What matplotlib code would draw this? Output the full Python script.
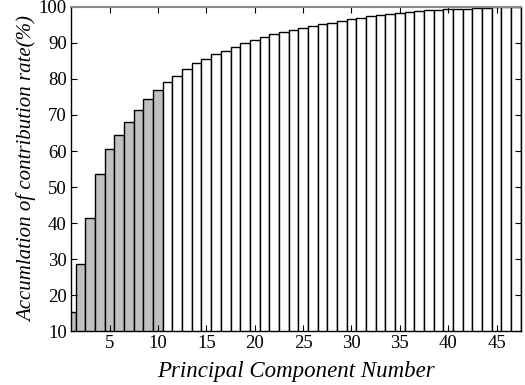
import matplotlib
matplotlib.use("Agg")
import matplotlib.pyplot as plt
import numpy as np

components = list(range(1, 48))
cumulative = [15.2, 28.7, 41.5, 53.7, 60.5, 64.4, 68.0, 71.3, 74.4, 76.9,
              79.1, 80.9, 82.7, 84.4, 85.6, 86.9, 87.9, 89.0, 90.0, 90.9,
              91.7, 92.4, 93.1, 93.6, 94.1, 94.7, 95.3, 95.6, 96.1, 96.6,
              97.0, 97.5, 97.8, 97.9, 98.3, 98.5, 98.8, 99.1, 99.2, 99.3,
              99.4, 99.5, 99.6, 99.8, 99.9, 99.95, 100.0]
n_highlight = 10
xticks = [5, 10, 15, 20, 25, 30, 35, 40, 45]
yticks = [10, 20, 30, 40, 50, 60, 70, 80, 90, 100]

plt.rcParams['font.family'] = ['Liberation Serif', 'DejaVu Serif']

fig = plt.figure(figsize=(5.25, 3.85), dpi=100)
ax = fig.add_axes([0.135, 0.140, 0.857, 0.842])

colors = ['#c0c0c0' if i < n_highlight else 'white' for i in range(len(components))]
ax.bar(components, cumulative, width=1.0, color=colors, edgecolor='black',
       linewidth=1.0, bottom=0)

ax.set_xlim(1, 47.5)
ax.set_ylim(10, 100)
ax.set_xticks(xticks)
ax.set_yticks(yticks)
ax.tick_params(direction='in', length=4, top=True, right=True, labelsize=13.5,
               width=0.8, pad=3)

for s in ['left', 'bottom', 'right']:
    ax.spines[s].set_color('black')
    ax.spines[s].set_linewidth(1.0)
ax.spines['top'].set_color('#888888')
ax.spines['top'].set_linewidth(1.5)

ax.set_xlabel('Principal Component Number', fontsize=16.5, style='italic', labelpad=6)
ax.set_ylabel('Accumlation of contribution rate(%)', fontsize=15, style='italic', labelpad=1)

fig.savefig('out.png', dpi=100)
